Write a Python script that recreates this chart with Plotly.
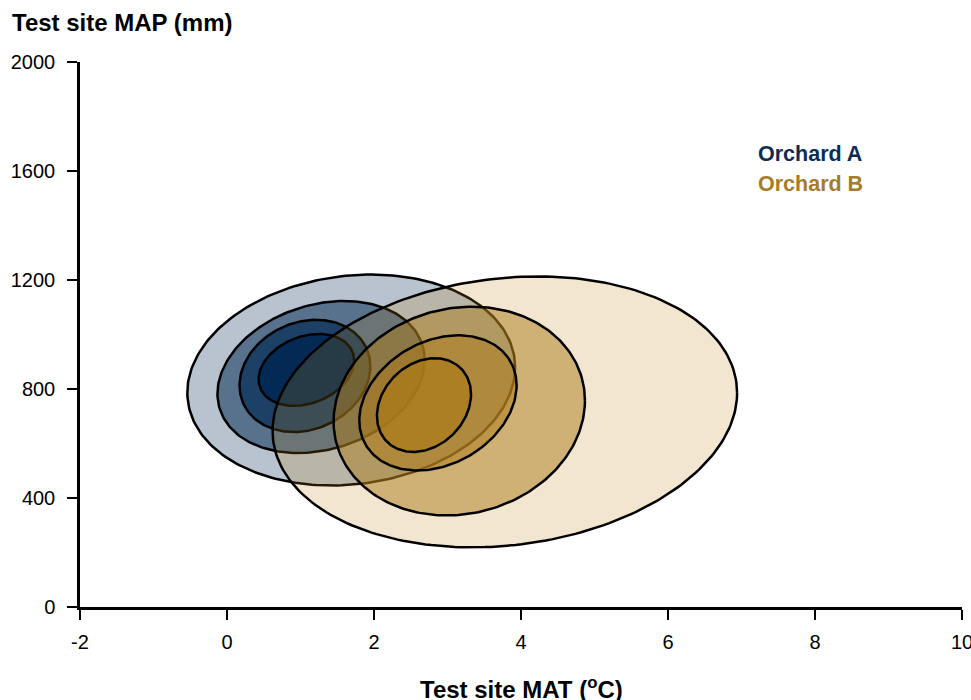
import numpy as np
import plotly.graph_objects as go

# Ellipse parameters (data units): centre, half-width (x), half-height (y), tilt correlation
a_cx = [1.69, 1.28, 1.06, 1.08]
a_cy = [833, 844, 848, 870]
a_sx = [2.23, 1.41, 0.89, 0.65]
a_sy = [387, 279, 206, 132]
a_r = [0.12, 0.22, 0.17, 0.26]

b_cx = [3.78, 3.16, 2.87, 2.68]
b_cy = [716, 719, 749, 741]
b_sx = [3.16, 1.71, 1.07, 0.64]
b_sy = [497, 383, 248, 172]
b_r = [0.14, 0.10, 0.26, 0.23]

a_fill = ["rgba(0,40,82,0.28)", "rgba(0,40,82,0.52)",
          "rgba(0,40,82,0.67)", "rgba(0,40,82,0.92)"]
b_fill = ["rgba(190,130,20,0.20)", "rgba(172,122,26,0.50)",
          "rgba(172,122,26,0.50)", "rgba(172,122,26,0.70)"]

x_ticks = [-2, 0, 2, 4, 6, 8, 10]
x_labels = ["-2", "0", "2", "4", "6", "8", "10"]
y_ticks = [0, 400, 800, 1200, 1600, 2000]
y_labels = ["0", "400", "800", "1200", "1600", "2000"]

FONT = "Liberation Sans, Arial, sans-serif"


def ellipse(cx, cy, sx, sy, r, n=240):
    t = np.linspace(0, 2 * np.pi, n)
    x = cx + sx * np.cos(t)
    y = cy + sy * (r * np.cos(t) + np.sqrt(1 - r * r) * np.sin(t))
    return x, y


fig = go.Figure()

for cx, cy, sx, sy, r, fc in zip(a_cx, a_cy, a_sx, a_sy, a_r, a_fill):
    x, y = ellipse(cx, cy, sx, sy, r)
    fig.add_trace(go.Scatter(x=x, y=y, mode="lines", fill="toself",
                             fillcolor=fc,
                             line=dict(color="black", width=2.5),
                             hoverinfo="skip", showlegend=False))

for cx, cy, sx, sy, r, fc in zip(b_cx, b_cy, b_sx, b_sy, b_r, b_fill):
    x, y = ellipse(cx, cy, sx, sy, r)
    fig.add_trace(go.Scatter(x=x, y=y, mode="lines", fill="toself",
                             fillcolor=fc,
                             line=dict(color="black", width=2.5),
                             hoverinfo="skip", showlegend=False))

fig.update_layout(
    width=971, height=700,
    margin=dict(l=80, r=9, t=62, b=93, autoexpand=False),
    paper_bgcolor="white", plot_bgcolor="white",
    font=dict(family=FONT, color="black", size=20),
    xaxis=dict(range=[-2, 10], tickvals=x_ticks, ticktext=x_labels,
               showgrid=False, zeroline=False, automargin=False,
               showline=True, linecolor="black", linewidth=2.5,
               ticks="outside", ticklen=10, tickwidth=2, tickcolor="black",
               tickfont=dict(size=20, family=FONT), ticklabelstandoff=5,
               ticklabeloverflow="allow"),
    yaxis=dict(range=[0, 2000], tickvals=y_ticks, ticktext=y_labels,
               showgrid=False, zeroline=False, automargin=False,
               showline=True, linecolor="black", linewidth=2.5,
               ticks="outside", ticklen=10, tickwidth=2, tickcolor="black",
               tickfont=dict(size=20, family=FONT), ticklabelstandoff=8,
               ticklabeloverflow="allow"),
    annotations=[
        dict(text="<b>Test site MAP (mm)</b>", xref="paper", yref="paper",
             x=-0.0794, y=1.073, xanchor="left", yanchor="middle",
             showarrow=False, font=dict(size=24, family=FONT)),
        dict(text="<b>Test site MAT (<sup>o</sup>C)</b>", xref="paper", yref="paper",
             x=0.5, y=-0.149, xanchor="center", yanchor="middle",
             showarrow=False, font=dict(size=24, family=FONT)),
        dict(text="<b>Orchard A</b>", x=7.2, y=1662, xref="x", yref="y",
             xanchor="left", yanchor="middle", showarrow=False,
             font=dict(size=21.5, color="#0B2D55", family=FONT)),
        dict(text="<b>Orchard B</b>", x=7.2, y=1552, xref="x", yref="y",
             xanchor="left", yanchor="middle", showarrow=False,
             font=dict(size=21.5, color="#A57C2A", family=FONT)),
    ],
)

fig.write_html("out.html",
               config={"displayModeBar": False},
               post_script="document.body.style.margin='0';document.body.style.overflow='hidden';")
